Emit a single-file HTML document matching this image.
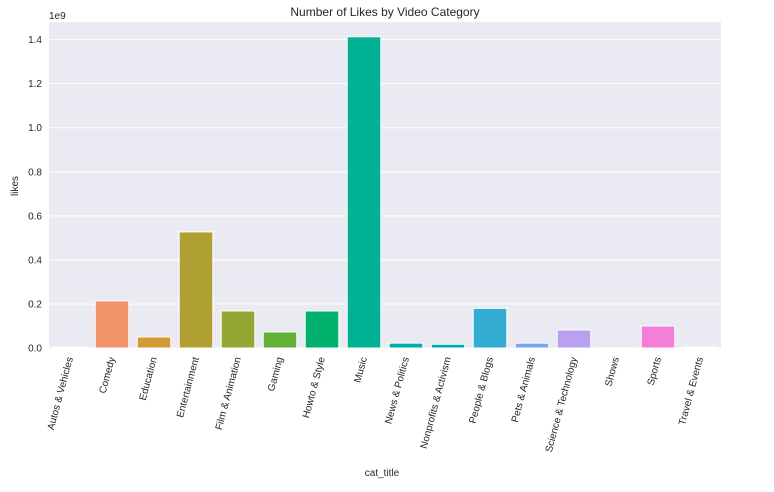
<!DOCTYPE html>
<html><head><meta charset="utf-8"><style>
body{margin:0;background:#fff;font-family:"Liberation Sans","DejaVu Sans",sans-serif;}
text{font-family:"Liberation Sans","DejaVu Sans",sans-serif;fill:#262626;}
</style></head><body>
<svg id="chart" width="774" height="487" xmlns="http://www.w3.org/2000/svg">
<rect x="49" y="22" width="672" height="326" fill="#eaeaf2"/>
<g id="grid"></g><g id="bars"></g><g id="xt"></g><g id="yt"></g>
<text x="385" y="16" text-anchor="middle" font-size="12">Number of Likes by Video Category</text>
<text x="49" y="19" font-size="10">1e9</text>
<text x="382" y="476" text-anchor="middle" font-size="10">cat_title</text>
<text transform="translate(18,186) rotate(-90)" text-anchor="middle" font-size="10">likes</text>
</svg>
<script>
const categories=["Autos & Vehicles","Comedy","Education","Entertainment","Film & Animation","Gaming","Howto & Style","Music","News & Politics","Nonprofits & Activism","People & Blogs","Pets & Animals","Science & Technology","Shows","Sports","Travel & Events"];
const likes=[0.004,0.214,0.05,0.527,0.168,0.073,0.168,1.413,0.022,0.017,0.18,0.022,0.082,0.001,0.1,0.004];
const yTicks=[0,0.2,0.4,0.6,0.8,1.0,1.2,1.4];
const colors=["#f77189","#f2936c","#d49a38","#b0a033","#95a733","#62b23a","#00b26e","#00b194","#00adab","#00aab8","#32acd1","#7aa6ee","#baa1ef","#e68ee8","#f47fd9","#f77eb0"];
const NS="http://www.w3.org/2000/svg";
const L=49,R=721,B=348,Tp=22;
const yMax=1.48;
const y=v=>B-v/yMax*(B-Tp);
const bw=(R-L)/categories.length;
const x=i=>L+bw*i;
const g=document.getElementById('grid'),bars=document.getElementById('bars'),xt=document.getElementById('xt'),yt=document.getElementById('yt');
yTicks.forEach(t=>{
 const l=document.createElementNS(NS,'line');
 l.setAttribute('x1',L);l.setAttribute('x2',R);l.setAttribute('y1',y(t));l.setAttribute('y2',y(t));
 l.setAttribute('stroke','#fff');l.setAttribute('stroke-width','1');
 
 
 g.appendChild(l);
 const tx=document.createElementNS(NS,'text');
 tx.setAttribute('x',L-7);tx.setAttribute('y',y(t)+3.5);tx.setAttribute('text-anchor','end');tx.setAttribute('font-size','10');
 tx.textContent=t.toFixed(1);
 
 
 yt.appendChild(tx);
});
categories.forEach((c,i)=>{
 const r=document.createElementNS(NS,'rect');
 const w=bw*0.8;
 r.setAttribute('x',x(i)+bw*0.1);r.setAttribute('width',w);
 r.setAttribute('y',y(likes[i]));r.setAttribute('height',Math.max(0,B-y(likes[i])));
 r.setAttribute('fill',colors[i]);r.setAttribute('stroke','#fff');r.setAttribute('stroke-width','1');
 
 
 bars.appendChild(r);
 const cx=x(i)+bw/2;
 const tx=document.createElementNS(NS,'text');
 tx.setAttribute('transform','translate('+(cx+3)+','+(B+10)+') rotate(-75)');
 tx.setAttribute('text-anchor','end');tx.setAttribute('font-size','10');
 tx.textContent=c;
 
 
 xt.appendChild(tx);
});
</script>
</body></html>
